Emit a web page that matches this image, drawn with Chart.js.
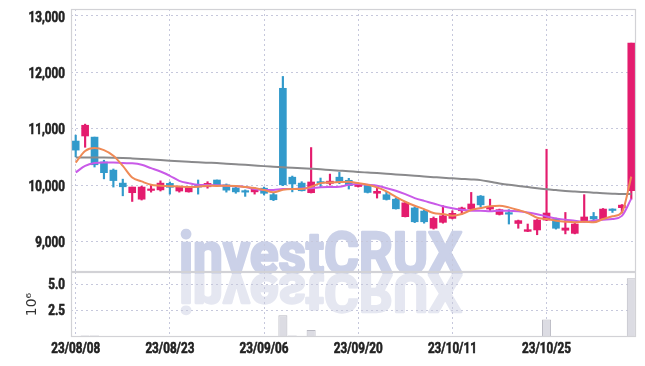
<!DOCTYPE html>
<html><head><meta charset="utf-8">
<script src="https://cdn.jsdelivr.net/npm/chart.js@4"></script>
<style>
html,body{margin:0;padding:0;background:#fff;}
#wrap{position:relative;width:645px;height:366px;overflow:hidden;background:#fff;}
#wrap canvas{position:absolute;left:0;}
</style></head>
<body><div id="wrap">
<canvas id="wm" width="645" height="366" style="top:0"></canvas>
<canvas id="c1" width="645" height="273" style="top:0"></canvas>
<canvas id="c2" width="645" height="94" style="top:272px"></canvas>
</div>
<script>
const dates = ['23/08/08','23/08/09','23/08/10','23/08/11','23/08/14','23/08/16','23/08/17','23/08/18','23/08/21','23/08/22',
'23/08/23','23/08/24','23/08/25','23/08/28','23/08/29','23/08/30','23/08/31','23/09/01','23/09/04','23/09/05',
'23/09/06','23/09/07','23/09/08','23/09/11','23/09/12','23/09/13','23/09/14','23/09/15','23/09/18','23/09/19',
'23/09/20','23/09/21','23/09/22','23/09/25','23/09/26','23/09/27','23/10/04','23/10/05','23/10/06','23/10/10',
'23/10/11','23/10/12','23/10/13','23/10/16','23/10/17','23/10/18','23/10/19','23/10/20','23/10/23','23/10/24',
'23/10/25','23/10/26','23/10/27','23/10/30','23/10/31','23/11/01','23/11/02','23/11/03','23/11/06','23/11/07'];
const opens  = [10780,10870,10850,10410,10265,10035,9865,9750,9905,9915, 10030,9895,9880,9995,9970,10090,10005,9950,9895,9880,
                9945,9830,11715,10140,10035,9865,10060,10030,10140,10085, 9975,10000,9855,9830,9750,9440,9595,9540,9235,9340,
                9410,9545,9575,9805,9575,9480,9505,9320,9180,9205, 9380,9400,9200,9145,9360,9445,9400,9570,9600,9900];
const highs  = [10885,11080,10850,10440,10285,10105,9965,9980,10005,10075, 10055,9980,9965,10090,10060,10090,10020,9965,9915,9955,
                9965,9870,11925,10160,10060,10665,10125,10195,10225,10120, 10025,10010,9945,9890,9770,9700,9615,9560,9435,9635,
                9545,9610,9870,9815,9750,9575,9565,9380,9310,9390, 10635,9415,9515,9320,9830,9515,9585,9580,9655,12515];
const lows   = [10500,10670,10320,10110,9965,9810,9710,9735,9875,9895, 9840,9875,9875,9840,9945,9975,9875,9855,9800,9840,
                9825,9725,9990,9880,9895,9860,9960,10000,10025,9930, 9965,9860,9770,9735,9575,9435,9335,9325,9220,9325,
                9400,9485,9560,9615,9540,9470,9310,9235,9175,9120, 9370,9220,9135,9135,9345,9350,9390,9515,9505,9750];
const closes = [10620,11060,10360,10220,10080,9970,9965,9965,9930,10035, 9960,9970,9960,9965,10030,9990,9910,9880,9875,9940,
                9855,9740,10005,10020,9900,10055,10035,10070,10050,9990, 10020,9870,9890,9745,9580,9685,9350,9350,9410,9455,
                9500,9595,9665,9650,9615,9565,9485,9370,9210,9380, 9505,9235,9240,9310,9435,9400,9575,9550,9645,12515];
const ma5    = [10400,10605,10655,10620,10520,10340,10135,10065,10005,9990, 9980,9975,9965,9970,9990,9985,9990,9982,9965,9947,
                9912,9871,9917,9929,9929,9970,10035,10048,10053,10058, 10035,10005,9959,9888,9793,9705,9634,9575,9504,9487,
                9457,9487,9558,9593,9623,9634,9605,9558,9504,9421, 9398,9368,9350,9340,9350,9340,9398,9446,9517,10150];
const ma10   = [10225,10340,10390,10400,10400,10390,10385,10360,10300,10240, 10165,10075,10035,10005,10000,9995,9990,9980,9965,9930,
                9915,9915,9930,9930,9940,9945,9960,9965,9970,10005, 10020,10005,9990,9945,9900,9840,9770,9720,9675,9625,
                9590,9565,9545,9545,9535,9545,9545,9535,9515,9485, 9445,9410,9385,9370,9350,9370,9385,9400,9455,9760];
const maLong = [10490,10490,10490,10488,10485,10480,10472,10463,10453,10443, 10433,10423,10413,10403,10396,10390,10380,10370,10360,10348,
                10336,10326,10316,10306,10299,10290,10280,10267,10256,10245, 10232,10222,10212,10201,10188,10178,10166,10152,10141,10130,
                10120,10110,10100,10088,10060,10030,10005,9985,9965,9945, 9926,9911,9897,9886,9876,9866,9856,9847,9840,9840];
const volumes = [0.05,0.15,0.15,0.08,0.08,0.06,0.04,0.03,0.03,0.03, 0.03,0.03,0.02,0.03,0.03,0.03,0.02,0.02,0.02,0.03,
                 0.03,0.04,2.05,0.15,0.05,0.65,0.06,0.05,0.06,0.04, 0.05,0.1,0.04,0.03,0.04,0.04,0.04,0.03,0.03,0.03,
                 0.03,0.03,0.04,0.04,0.03,0.03,0.03,0.03,0.03,0.04, 1.65,0.08,0.05,0.03,0.1,0.04,0.05,0.03,0.04,5.55];
const priceTicks = [9000,10000,11000,12000,13000];
const volTicks = [2.5,5.0];

const UP = '#e41c6e', DOWN = '#329acb';
const GRID = '#c6c8dc';
const LABEL_FONT = "bold 15px Roboto, 'DejaVu Sans', sans-serif";
const SX = 0.78;
const colors = opens.map((o,i)=> closes[i] >= o ? UP : DOWN);
const bodies = opens.map((o,i)=>[o, closes[i]]);
const wicks = lows.map((l,i)=>[l, highs[i]]);

// watermark
(function(){
  const c = document.getElementById('wm').getContext('2d');
  c.font = "bold 58px Roboto, 'Open Sans', sans-serif";
  const w = c.measureText('investCRUX').width;
  const sx = 283 / w;
  c.lineJoin = 'round';
  c.save(); c.translate(179, 273); c.scale(sx, 1);
  c.fillStyle = '#cbd1e8'; c.strokeStyle = '#cbd1e8'; c.lineWidth = 2.5;
  c.fillText('investCRUX', 0, 0); c.strokeText('investCRUX', 0, 0); c.restore();
  c.save(); c.translate(179, 275); c.scale(sx, -0.9);
  c.fillStyle = '#e5e7f1'; c.strokeStyle = '#e5e7f1'; c.lineWidth = 2.5;
  c.fillText('investCRUX', 0, 0); c.strokeText('investCRUX', 0, 0); c.restore();
})();

function drawLabel(ctx, text, x, y, align){
  ctx.save(); ctx.translate(x, y); ctx.scale(SX, 1);
  ctx.textAlign = align; ctx.textBaseline = 'middle';
  ctx.lineWidth = 0.6; ctx.strokeStyle = ctx.fillStyle;
  ctx.fillText(text, 0, 0); ctx.strokeText(text, 0, 0);
  ctx.restore();
}

const boxPlugin = {id:'box', afterDraw(chart){
  const {ctx, chartArea:a} = chart;
  ctx.save(); ctx.strokeStyle = '#d2d2d6'; ctx.lineWidth = 1.2;
  ctx.strokeRect(a.left+0.5, a.top+0.5, a.right-a.left-1, a.bottom-a.top-1);
  ctx.restore();
}};

function makeYLabels(fmt, dy){
  return {id:'ylabels', afterDraw(chart){
    const ctx = chart.ctx, ys = chart.scales.y;
    ctx.save(); ctx.font = LABEL_FONT; ctx.fillStyle = '#222222';
    ys.ticks.forEach(t => drawLabel(ctx, fmt(t.value), 65, ys.getPixelForValue(t.value) + dy, 'right'));
    ctx.restore();
  }};
}

const xLabelPlugin = {id:'xlabels', afterDraw(chart){
  const ctx = chart.ctx, xs = chart.scales.x;
  ctx.save(); ctx.font = LABEL_FONT; ctx.fillStyle = '#222222';
  dates.forEach((d,i) => { if (i % 10 === 0) drawLabel(ctx, d, xs.getPixelForValue(i), chart.chartArea.bottom + 12, 'center'); });
  ctx.restore();
}};

const xGrid = {offset:false, drawTicks:false, color: c => (c.index % 10 === 0 ? GRID : 'rgba(0,0,0,0)'), lineWidth:1};
function noPad(s){ s.paddingTop = 0; s.paddingBottom = 0; s.paddingLeft = 0; s.paddingRight = 0; }

new Chart(document.getElementById('c1'), {
  type: 'bar',
  data: { labels: dates, datasets: [
    {type:'line', data: ma5, borderColor:'#ef8a56', borderWidth:2, pointRadius:0, cubicInterpolationMode:'monotone', order:0},
    {type:'line', data: ma10, borderColor:'#c95ae8', borderWidth:2, pointRadius:0, cubicInterpolationMode:'monotone', order:0},
    {type:'line', data: maLong, borderColor:'#8a8a8c', borderWidth:2, pointRadius:0, cubicInterpolationMode:'monotone', order:0},
    {data: bodies, backgroundColor: colors, barThickness: 7, minBarLength: 1.5, grouped:false, order:1},
    {data: wicks, backgroundColor: colors, barThickness: 1.5, grouped:false, order:2}
  ]},
  options: {
    responsive:false, animation:false, events:[],
    plugins:{legend:{display:false}, tooltip:{enabled:false}},
    layout:{padding:{top:9, right:9, left:0, bottom:1}},
    scales:{
      x:{offset:true, ticks:{display:false, autoSkip:false}, grid:xGrid, border:{display:false, dash:[2,3]},
         afterFit(s){ s.height = 0; noPad(s); }},
      y:{min:8460, max:13120,
         afterBuildTicks(s){ s.ticks = priceTicks.map(v=>({value:v})); },
         afterFit(s){ s.width = 71; noPad(s); },
         ticks:{display:false},
         grid:{color:GRID, drawTicks:false}, border:{display:false, dash:[2,3]}}
    }
  },
  plugins:[boxPlugin, makeYLabels(v => v.toLocaleString('en-US'), 2)]
});

new Chart(document.getElementById('c2'), {
  type: 'bar',
  data: { labels: dates, datasets: [
    {data: volumes, backgroundColor:'#dcdce3', borderColor:'#b9b9c2', borderWidth:1, barPercentage:1, categoryPercentage:0.96}
  ]},
  options: {
    responsive:false, animation:false, events:[],
    plugins:{legend:{display:false}, tooltip:{enabled:false}},
    layout:{padding:{top:0, right:9, left:0, bottom:0}},
    scales:{
      x:{offset:true, grid:xGrid, border:{display:false, dash:[2,3]},
         ticks:{display:false, autoSkip:false},
         afterFit(s){ s.height = 29; noPad(s); }},
      y:{min:0, max:6.14,
         afterBuildTicks(s){ s.ticks = volTicks.map(v=>({value:v})); },
         afterFit(s){ s.width = 71; noPad(s); },
         ticks:{display:false},
         title:{display:true, text:'10⁶', color:'#333', font:{family:"'DejaVu Sans',sans-serif", size:14}, padding:{top:24,bottom:0}},
         grid:{color:GRID, drawTicks:false}, border:{display:false, dash:[2,3]}}
    }
  },
  plugins:[boxPlugin, makeYLabels(v => v.toFixed(1), 1), xLabelPlugin]
});
</script>
</body></html>
